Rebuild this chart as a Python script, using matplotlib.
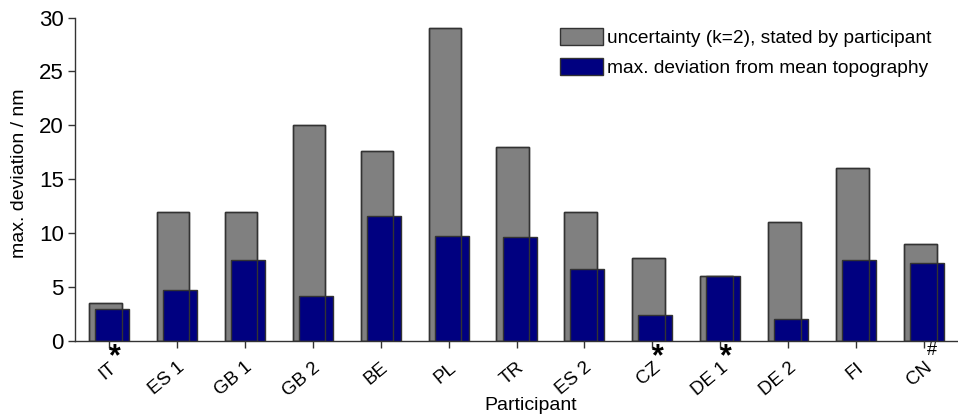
import numpy as np
import matplotlib.pyplot as plt

plt.rcParams['font.family'] = ['Liberation Sans', 'DejaVu Sans']

participants = ['IT', 'ES 1', 'GB 1', 'GB 2', 'BE', 'PL', 'TR', 'ES 2', 'CZ', 'DE 1', 'DE 2', 'FI', 'CN']
uncertainty = [3.5, 12.0, 12.0, 20.0, 17.6, 29.0, 18.0, 12.0, 7.7, 6.0, 11.0, 16.0, 9.0]
max_dev = [3.0, 4.7, 7.5, 4.2, 11.6, 9.7, 9.6, 6.7, 2.4, 6.0, 2.0, 7.5, 7.2]
# marks after some labels
marks = {'IT': '*', 'CZ': '*', 'DE 1': '*', 'CN': '#'}

GREY = '#808080'
NAVY = '#000080'
EDGE = '#333333'

fig = plt.figure(figsize=(9.58, 4.2), dpi=100)
ax = fig.add_axes([75 / 958, 79 / 420, 1 - 75 / 958, (341 - 17.5) / 420])

x = np.arange(len(participants))
ax.bar(x - 0.055, uncertainty, width=0.48, color=GREY, edgecolor=EDGE, linewidth=1,
       label='uncertainty (k=2), stated by participant', zorder=2)
ax.bar(x + 0.045, max_dev, width=0.5, color=NAVY, edgecolor=EDGE, linewidth=1,
       label='max. deviation from mean topography', zorder=3)
# outline of grey bars shows through the blue ones
ax.bar(x - 0.055, uncertainty, width=0.48, facecolor='none', edgecolor=EDGE, linewidth=1, zorder=4)

ax.set_xlim(-0.5, 12.5)
ax.set_ylim(0, 30)
ax.set_yticks([0, 5, 10, 15, 20, 25, 30])
ax.set_xticks(x)
ax.set_xticklabels(participants, rotation=40, ha='right', va='top', rotation_mode='anchor', fontsize=13.5)
ax.tick_params(axis='both', direction='out', length=5, width=1, color=EDGE)
ax.tick_params(axis='y', labelsize=16, pad=3)
ax.tick_params(axis='x', pad=8)

for s in ['top', 'right']:
    ax.spines[s].set_visible(False)
for s in ['left', 'bottom']:
    ax.spines[s].set_color(EDGE)
    ax.spines[s].set_linewidth(1)

for i, p in enumerate(participants):
    if p in marks:
        m = marks[p]
        if m == '*':
            ax.annotate(m, (i, 0), xytext=(4, -1), textcoords='offset points',
                        ha='center', va='top', fontsize=22, fontweight='bold', annotation_clip=False)
        else:
            ax.annotate(m, (i, 0), xytext=(6, -1), textcoords='offset points',
                        ha='center', va='top', fontsize=13, annotation_clip=False)

ax.set_xlabel('Participant', fontsize=14)
ax.xaxis.set_label_coords(0.516, -0.172)
ax.set_ylabel('max. deviation / nm', fontsize=14)
ax.yaxis.set_label_coords(-0.053, 0.519)

ax.legend(loc='upper left', bbox_to_anchor=(560 / 958, 1 - 28 / 420), bbox_transform=fig.transFigure,
          frameon=False, fontsize=13.8, handlelength=2.25, handleheight=0.95, handletextpad=0.2,
          labelspacing=0.6, borderpad=0, borderaxespad=0)

fig.savefig('out.png', dpi=100)
